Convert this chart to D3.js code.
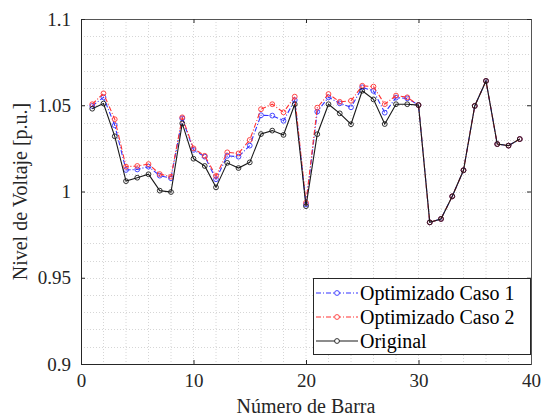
<!DOCTYPE html>
<html><head><meta charset="utf-8">
<script src="https://cdn.jsdelivr.net/npm/d3@7"></script>
<style>
body{margin:0;background:#fff;}
svg{display:block;font-family:"Liberation Serif","Times New Roman",serif;}
</style></head>
<body><svg id="c" width="546" height="418"></svg>
<script>
const buses = d3.range(1, 40);
const original = [1.048,1.051,1.032,1.006,1.008,1.010,1.0005,0.9997,1.0395,1.019,1.0148,1.0024,1.0166,1.0136,1.0169,1.0333,1.0353,1.0328,1.0506,0.9915,1.0332,1.0506,1.0453,1.039,1.0584,1.0534,1.0391,1.0506,1.0506,1.0501,0.9821,0.9841,0.9972,1.0123,1.0496,1.0641,1.0275,1.0266,1.0304];
const caso1 = [1.0496,1.0546,1.0384,1.0125,1.0128,1.0144,1.0092,1.0077,1.0424,1.0241,1.0202,1.0071,1.0207,1.0202,1.0266,1.0442,1.044,1.041,1.053,0.9925,1.0463,1.0546,1.0511,1.0488,1.0604,1.0583,1.0457,1.0544,1.054,1.0501,0.9821,0.9841,0.9972,1.0123,1.0496,1.0641,1.0275,1.0266,1.0304];
const caso2 = [1.0506,1.0569,1.0419,1.0144,1.0148,1.0159,1.0101,1.0086,1.043,1.025,1.0207,1.009,1.0227,1.0221,1.0299,1.0477,1.0506,1.0459,1.055,0.9935,1.0486,1.0565,1.052,1.0526,1.0613,1.0608,1.0506,1.0556,1.0546,1.0501,0.9821,0.9841,0.9972,1.0123,1.0496,1.0641,1.0275,1.0266,1.0304];
const xTicks = [0,10,20,30,40];
const yTicks = [0.9,0.95,1,1.05,1.1];
const yTickLabels = ["0.9","0.95","1","1.05","1.1"];
const seriesNames = ["Optimizado Caso 1","Optimizado Caso 2","Original"];

const L = 81, R = 531, T = 19, B = 364;
const svg = d3.select("#c");
const x = d3.scaleLinear().domain([0,40]).range([L,R]);
const y = d3.scaleLinear().domain([0.9,1.1]).range([B,T]);

// grid (minor)
const g = svg.append("g");
g.selectAll("line.vx").data(d3.range(2,40,2)).enter().append("line")
  .attr("x1",d=>x(d)).attr("x2",d=>x(d)).attr("y1",T).attr("y2",B)
  .attr("stroke","#d6d6d6").attr("stroke-width",1).attr("stroke-dasharray","1,2");
g.selectAll("line.hy").data(d3.range(1,20).map(i=>0.9+i*0.01)).enter().append("line")
  .attr("y1",d=>Math.round(y(d))+0.5).attr("y2",d=>Math.round(y(d))+0.5).attr("x1",L).attr("x2",R)
  .attr("stroke","#d6d6d6").attr("stroke-width",1).attr("stroke-dasharray","1,2");

// axes
const axCol = "#262626";
const xb = svg.append("g").attr("transform",`translate(0,${B})`)
  .call(d3.axisBottom(x).tickValues(xTicks).tickSize(-4).tickPadding(10).tickFormat(d3.format("d")));
const xt = svg.append("g").attr("transform",`translate(0,${T})`)
  .call(d3.axisTop(x).tickValues(xTicks).tickSize(-4).tickFormat(""));
const yl = svg.append("g").attr("transform",`translate(${L},0)`)
  .call(d3.axisLeft(y).tickValues(yTicks).tickSize(-4).tickPadding(10).tickFormat((d,i)=>yTickLabels[i]));
const yr = svg.append("g").attr("transform",`translate(${R},0)`)
  .call(d3.axisRight(y).tickValues(yTicks).tickSize(-4).tickFormat(""));
[xb,xt,yl,yr].forEach(a=>{
  a.select(".domain").attr("stroke",axCol).attr("stroke-width",1);
  a.selectAll(".tick line").attr("stroke",axCol);
  a.selectAll("text").attr("font-family","Liberation Serif").attr("font-size",19).attr("fill",axCol);
});
xt.select(".domain").attr("stroke","#555");
yr.select(".domain").attr("stroke","#555");

// series
const series = [
  {name:seriesNames[0], vals:caso1, color:"#3333ff", dash:"5,2,1,2"},
  {name:seriesNames[1], vals:caso2, color:"#ff3333", dash:"5,2,1,2"},
  {name:seriesNames[2], vals:original, color:"#1a1a1a", dash:null}
];
const line = d3.line().x((d,i)=>x(buses[i])).y(d=>y(d));
series.forEach(s=>{
  const p = svg.append("path").datum(s.vals).attr("d",line).attr("fill","none")
    .attr("stroke",s.color).attr("stroke-width",1.1);
  if(s.dash) p.attr("stroke-dasharray",s.dash);
  svg.append("g").selectAll("circle").data(s.vals).enter().append("circle")
    .attr("cx",(d,i)=>x(buses[i])).attr("cy",d=>y(d)).attr("r",2.4)
    .attr("fill","none").attr("stroke",s.color).attr("stroke-width",0.9);
});

// legend
const lg = svg.append("g");
lg.append("rect").attr("x",313.5).attr("y",278.5).attr("width",217).attr("height",76)
  .attr("fill","#fff").attr("stroke",axCol).attr("stroke-width",1);
series.forEach((s,i)=>{
  const cy = 293 + i*24;
  const ln = lg.append("line").attr("x1",316).attr("x2",358).attr("y1",cy).attr("y2",cy)
    .attr("stroke",s.color).attr("stroke-width",1.1);
  if(s.dash) ln.attr("stroke-dasharray",s.dash);
  lg.append("circle").attr("cx",337).attr("cy",cy).attr("r",2.4).attr("fill","#fff")
    .attr("stroke",s.color).attr("stroke-width",0.9);
  lg.append("text").attr("x",360).attr("y",cy+7).attr("font-size",20).attr("fill","#000").text(s.name);
});

// axis labels
svg.append("text").attr("x",(L+R)/2).attr("y",413).attr("text-anchor","middle")
  .attr("font-size",20).attr("fill",axCol).text("Número de Barra");
svg.append("text").attr("transform",`translate(27,${(T+B)/2}) rotate(-90)`).attr("text-anchor","middle")
  .attr("font-size",20).attr("fill",axCol).text("Nivel de Voltaje [p.u.]");
</script></body></html>
